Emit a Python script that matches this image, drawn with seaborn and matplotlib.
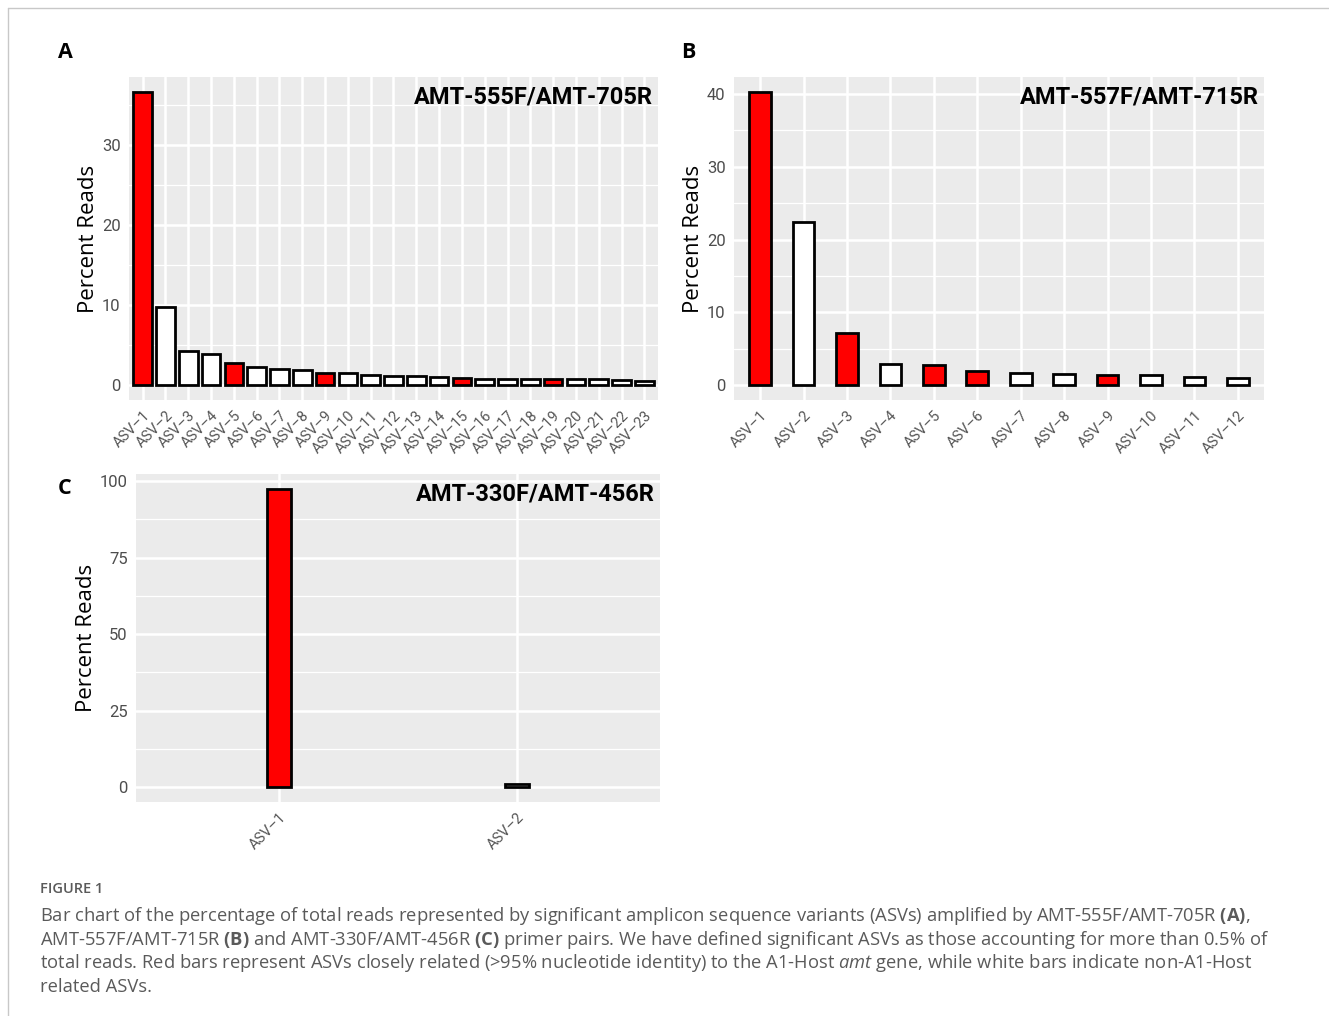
import numpy as np
import matplotlib
matplotlib.use('Agg')
import matplotlib.pyplot as plt
from matplotlib.lines import Line2D
from matplotlib.ticker import MultipleLocator
import seaborn as sns

# panel A: AMT-555F/AMT-705R
asv_a = ['ASV–%d' % i for i in range(1, 24)]
reads_a = [36.7, 9.8, 4.3, 3.9, 2.8, 2.25, 2.05, 1.9, 1.6, 1.55, 1.25, 1.17,
           1.15, 1.0, 0.9, 0.85, 0.85, 0.85, 0.8, 0.78, 0.75, 0.7, 0.6]
host_a = [1, 0, 0, 0, 1, 0, 0, 0, 1, 0, 0, 0, 0, 0, 1, 0, 0, 0, 1, 0, 0, 0, 0]

# panel B: AMT-557F/AMT-715R
asv_b = ['ASV–%d' % i for i in range(1, 13)]
reads_b = [40.3, 22.4, 7.2, 2.9, 2.85, 2.0, 1.7, 1.5, 1.45, 1.35, 1.2, 1.0]
host_b = [1, 0, 1, 0, 1, 1, 0, 0, 1, 0, 0, 0]

# panel C: AMT-330F/AMT-456R
asv_c = ['ASV–1', 'ASV–2']
reads_c = [97.5, 0.9]
host_c = [1, 0]

sns.set_theme(style='darkgrid')
plt.rcParams['font.family'] = ['Open Sans', 'DejaVu Sans']
plt.rcParams['mathtext.fontset'] = 'custom'
plt.rcParams['mathtext.rm'] = 'Open Sans'
plt.rcParams['mathtext.bf'] = 'Open Sans:bold'
plt.rcParams['mathtext.it'] = 'Open Sans:italic'

W, H = 1329, 1016
fig = plt.figure(figsize=(W / 100, H / 100), dpi=100)
narrow = ['Roboto', 'DejaVu Sans']


def panel(box, names, vals, host, title, width, ystep, letter, letter_xy):
    x0, y0, x1, y1 = box
    ax = fig.add_axes([x0 / W, 1 - y1 / H, (x1 - x0) / W, (y1 - y0) / H])
    ax.set_facecolor('#EBEBEB')
    cols = ['#FF0000' if h else '#FFFFFF' for h in host]
    sns.barplot(x=names, y=vals, hue=names, palette=cols, legend=False,
                saturation=1, edgecolor='black', linewidth=2, width=width,
                ax=ax, zorder=3)
    n = len(names)
    top = max(vals)
    ax.set_xlim(-0.6, n - 0.4)
    ax.set_ylim(-0.05 * top, top * 1.05)
    ax.yaxis.set_major_locator(MultipleLocator(ystep))
    ax.yaxis.set_minor_locator(MultipleLocator(ystep / 2))
    ax.grid(which='major', color='white', lw=1.8, zorder=0)
    ax.grid(which='minor', axis='y', color='white', lw=0.9, zorder=0)
    ax.set_axisbelow(True)
    for s in ax.spines.values():
        s.set_visible(False)
    ax.tick_params(axis='both', which='major', length=4, width=1.3,
                   color='#333333', labelcolor='#4D4D4D', labelsize=10, pad=2)
    ax.tick_params(axis='both', which='minor', length=0)
    ax.set_xticks(range(n))
    ax.set_xticklabels(names, rotation=45, ha='right', rotation_mode='anchor',
                       family=narrow, fontsize=10.5, color='#555555')
    for lab in ax.get_yticklabels():
        lab.set_family(narrow)
        lab.set_fontsize(12)
    ax.set_xlabel('')
    ax.set_ylabel('Percent Reads', fontsize=16, color='black', labelpad=2)
    ax.text(0.99, 0.975, title, transform=ax.transAxes, ha='right', va='top',
            fontsize=17, weight='bold', family=narrow, color='black', zorder=5)
    fig.text(letter_xy[0] / W, 1 - letter_xy[1] / H, letter, fontsize=15.5,
             weight='bold', ha='center', va='center', color='black')
    return ax


panel((129, 77, 658, 400), asv_a, reads_a, host_a, 'AMT-555F/AMT-705R',
      0.82, 10, 'A', (65, 52))
panel((734, 77, 1264, 400), asv_b, reads_b, host_b, 'AMT-557F/AMT-715R',
      0.5, 10, 'B', (688, 52))
panel((136, 474, 660, 802), asv_c, reads_c, host_c, 'AMT-330F/AMT-456R',
      0.1, 25, 'C', (65, 488))

# thin frame at top and left
fig.add_artist(Line2D([8 / W, 1], [1 - 8 / H, 1 - 8 / H], color='#C8C8C8', lw=1))
fig.add_artist(Line2D([8 / W, 8 / W], [0, 1 - 8 / H], color='#C8C8C8', lw=1))

cap = '#5A5A5A'
fig.text(40 / W, 1 - 889 / H, 'FIGURE 1', fontsize=10.5, color=cap,
         weight='semibold', va='center')
lines = [
    'Bar chart of the percentage of total reads represented by significant amplicon '
    'sequence variants (ASVs) amplified by AMT-555F/AMT-705R $\\mathbf{(A)}$,',
    'AMT-557F/AMT-715R $\\mathbf{(B)}$ and AMT-330F/AMT-456R $\\mathbf{(C)}$ primer pairs. '
    'We have defined significant ASVs as those accounting for more than 0.5% of',
    'total reads. Red bars represent ASVs closely related (>95% nucleotide identity) '
    'to the A1-Host $\\mathit{amt}$ gene, while white bars indicate non-A1-Host',
    'related ASVs.',
]
for i, t in enumerate(lines):
    fig.text(40 / W, 1 - (916 + i * 23.7) / H, t, fontsize=13.2, color=cap,
             va='center')

fig.savefig('out.png', dpi=100)
